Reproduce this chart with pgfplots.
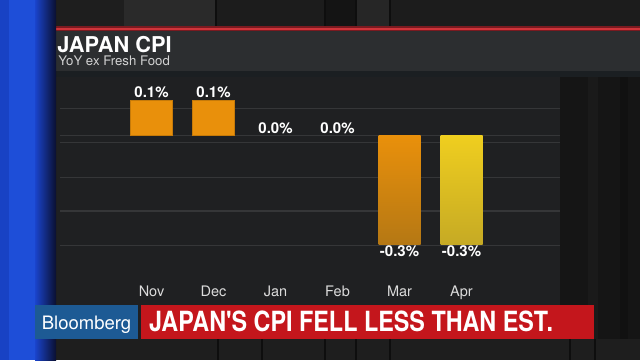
\documentclass[border=0pt]{standalone}
\usepackage{pgfplots}
\pgfplotsset{compat=1.18}
\usepackage{fontspec}
\setmainfont{TeX Gyre Heros}
\definecolor{bgdark}{HTML}{161616}
\definecolor{panel}{HTML}{1F2022}
\definecolor{header}{HTML}{2C2E30}
\definecolor{band}{HTML}{1B1F22}
\definecolor{gridc}{HTML}{353638}
\definecolor{zeroc}{HTML}{5A5B5D}
\definecolor{barorange}{HTML}{E9900B}
\definecolor{barorangedk}{HTML}{B57814}
\definecolor{baryellow}{HTML}{EFCE1F}
\definecolor{baryellowdk}{HTML}{C6AA24}
\definecolor{bbblue}{HTML}{1D5A94}
\definecolor{bannerred}{HTML}{C4161C}
\definecolor{redline}{HTML}{D0343A}
\definecolor{redlinedk}{HTML}{7A1A20}
\definecolor{stripeblue}{HTML}{1E4ED8}
\definecolor{stripebluemid}{HTML}{1A44CC}
\definecolor{stripebluedk}{HTML}{0A0F30}
\definecolor{monthc}{HTML}{DCDCDC}
\definecolor{subc}{HTML}{D2D2D2}
\definecolor{sA}{HTML}{1E1E1E}
\definecolor{sB}{HTML}{2A2A2A}
\definecolor{sC}{HTML}{1C1C1C}
\definecolor{sD}{HTML}{141414}
\definecolor{sE}{HTML}{262626}
\definecolor{sLine}{HTML}{0E0E0E}
\begin{document}
\begin{tikzpicture}[x=1bp,y=1bp]
\useasboundingbox (0,0) rectangle (640,360);
\clip (0,0) rectangle (640,360);
% background
\fill[bgdark] (0,0) rectangle (640,360);
% top studio stripes
\fill[sA] (55,333) rectangle (124,360);
\fill[sB] (124,333) rectangle (216,360);
\fill[sC] (216,333) rectangle (325,360);
\fill[sD] (325,333) rectangle (356,360);
\fill[sE] (356,333) rectangle (390,360);
\fill[sC] (390,333) rectangle (640,360);
\foreach \xx in {216,325,356,390} {\fill[sLine] (\xx-1,333) rectangle (\xx+1,360);}
% bottom studio stripes
\fill[sA] (55,0) rectangle (640,21);
\foreach \xx in {218,262,325,356,390,570,595} {\fill[sLine] (\xx-1,0) rectangle (\xx+1,21);}
% right side
\fill[fill={rgb,255:red,21;green,21;blue,21}] (560,21) rectangle (640,289);
\fill[fill={rgb,255:red,26;green,26;blue,26}] (588,21) rectangle (598,289);
\fill[fill={rgb,255:red,17;green,17;blue,17}] (620,21) rectangle (628,289);
% chart panel
\fill[panel] (55,21) rectangle (560,283.3);
% band under header
\fill[band] (53,283.3) rectangle (640,289);
% header
\fill[header] (53,289) rectangle (640,329.5);
% red line
\fill[redlinedk] (53,328.8) rectangle (640,333.6);
\fill[redline] (53,330) rectangle (640,332.4);
% blue stripe
\fill[stripeblue] (0,0) rectangle (35,360);
\fill[fill={rgb,255:red,24;green,66;blue,196}] (0,0) rectangle (9,360);
\shade[left color=stripebluemid, right color=stripebluedk] (35,0) rectangle (56,360);
% titles
\node[anchor=base west, inner sep=0pt, text=white] at (57.3,307.7)
  {\fontsize{21.8bp}{26bp}\selectfont\bfseries JAPAN CPI};
\node[anchor=base west, inner sep=0pt, text=subc] at (58.3,294.1)
  {\fontsize{13.2bp}{16bp}\selectfont YoY ex Fresh Food};
% chart
\begin{axis}[
  at={(60bp,55bp)}, anchor=south west,
  scale only axis, width=500bp, height=234bp,
  xmin=-1.4758, xmax=6.5887,
  ymin=-0.48371, ymax=0.18486,
  axis line style={draw=none},
  tick style={draw=none},
  major tick length=0pt,
  xtick={0,1,2,3,4,5},
  xticklabels={Nov,Dec,Jan,Feb,Mar,Apr},
  xticklabel style={anchor=base, inner sep=0pt, yshift=8.3bp, text=monthc,
    font=\fontsize{14.5bp}{17bp}\selectfont},
  ytick={0.07829,-0.01943,-0.11857,-0.21514,-0.31371},
  yticklabels={},
  ymajorgrids,
  major grid style={draw=gridc, line width=1.2bp},
  extra y ticks={0},
  extra y tick labels={},
  extra y tick style={grid style={draw=zeroc, line width=1.6bp}},
  bar width=42bp,
  clip=false,
]
\addplot[ybar, bar shift=0pt, fill=barorange, draw=barorange!85!black, line width=0.5bp]
  coordinates {(0,0.1) (1,0.1)};
\addplot[ybar, bar shift=0pt, draw=none, top color=barorange, bottom color=barorangedk]
  coordinates {(4,-0.31)};
\addplot[ybar, bar shift=0pt, draw=none, top color=baryellow, bottom color=baryellowdk]
  coordinates {(5,-0.31)};
% value labels
\addplot[draw=none, mark=none, nodes near coords, point meta=explicit symbolic,
  nodes near coords style={anchor=base, inner sep=0pt, yshift=3.4bp, text=white,
    font=\fontsize{15bp}{18bp}\selectfont\bfseries}]
  coordinates {(0,0.1)[0.1\%] (1,0.1)[0.1\%]};
\addplot[draw=none, mark=none, nodes near coords, point meta=explicit symbolic,
  nodes near coords style={anchor=base, inner sep=0pt, yshift=2.4bp, text=white,
    font=\fontsize{15bp}{18bp}\selectfont\bfseries}]
  coordinates {(2,0)[0.0\%] (3,0)[0.0\%]};
\addplot[draw=none, mark=none, nodes near coords, point meta=explicit symbolic,
  nodes near coords style={anchor=base, inner sep=0pt, yshift=-12.5bp, text=white,
    font=\fontsize{15bp}{18bp}\selectfont\bfseries}]
  coordinates {(4,-0.31)[-0.3\%] (5,-0.31)[-0.3\%]};
\end{axis}
% banner
\fill[bbblue] (35,20.7) rectangle (138.3,55);
\fill[bannerred] (140.7,20.7) rectangle (594.3,55);
\node[anchor=base west, inner sep=0pt, text=white] at (41.7,30.7)
  {\fontsize{18.5bp}{22bp}\selectfont Bloomberg};
\node[anchor=base west, inner sep=0pt, text=white, xscale=0.84] at (149,28.3)
  {\fontsize{27.8bp}{32bp}\selectfont\bfseries JAPAN\textquotesingle S CPI FELL LESS THAN EST.};
\end{tikzpicture}
\end{document}
